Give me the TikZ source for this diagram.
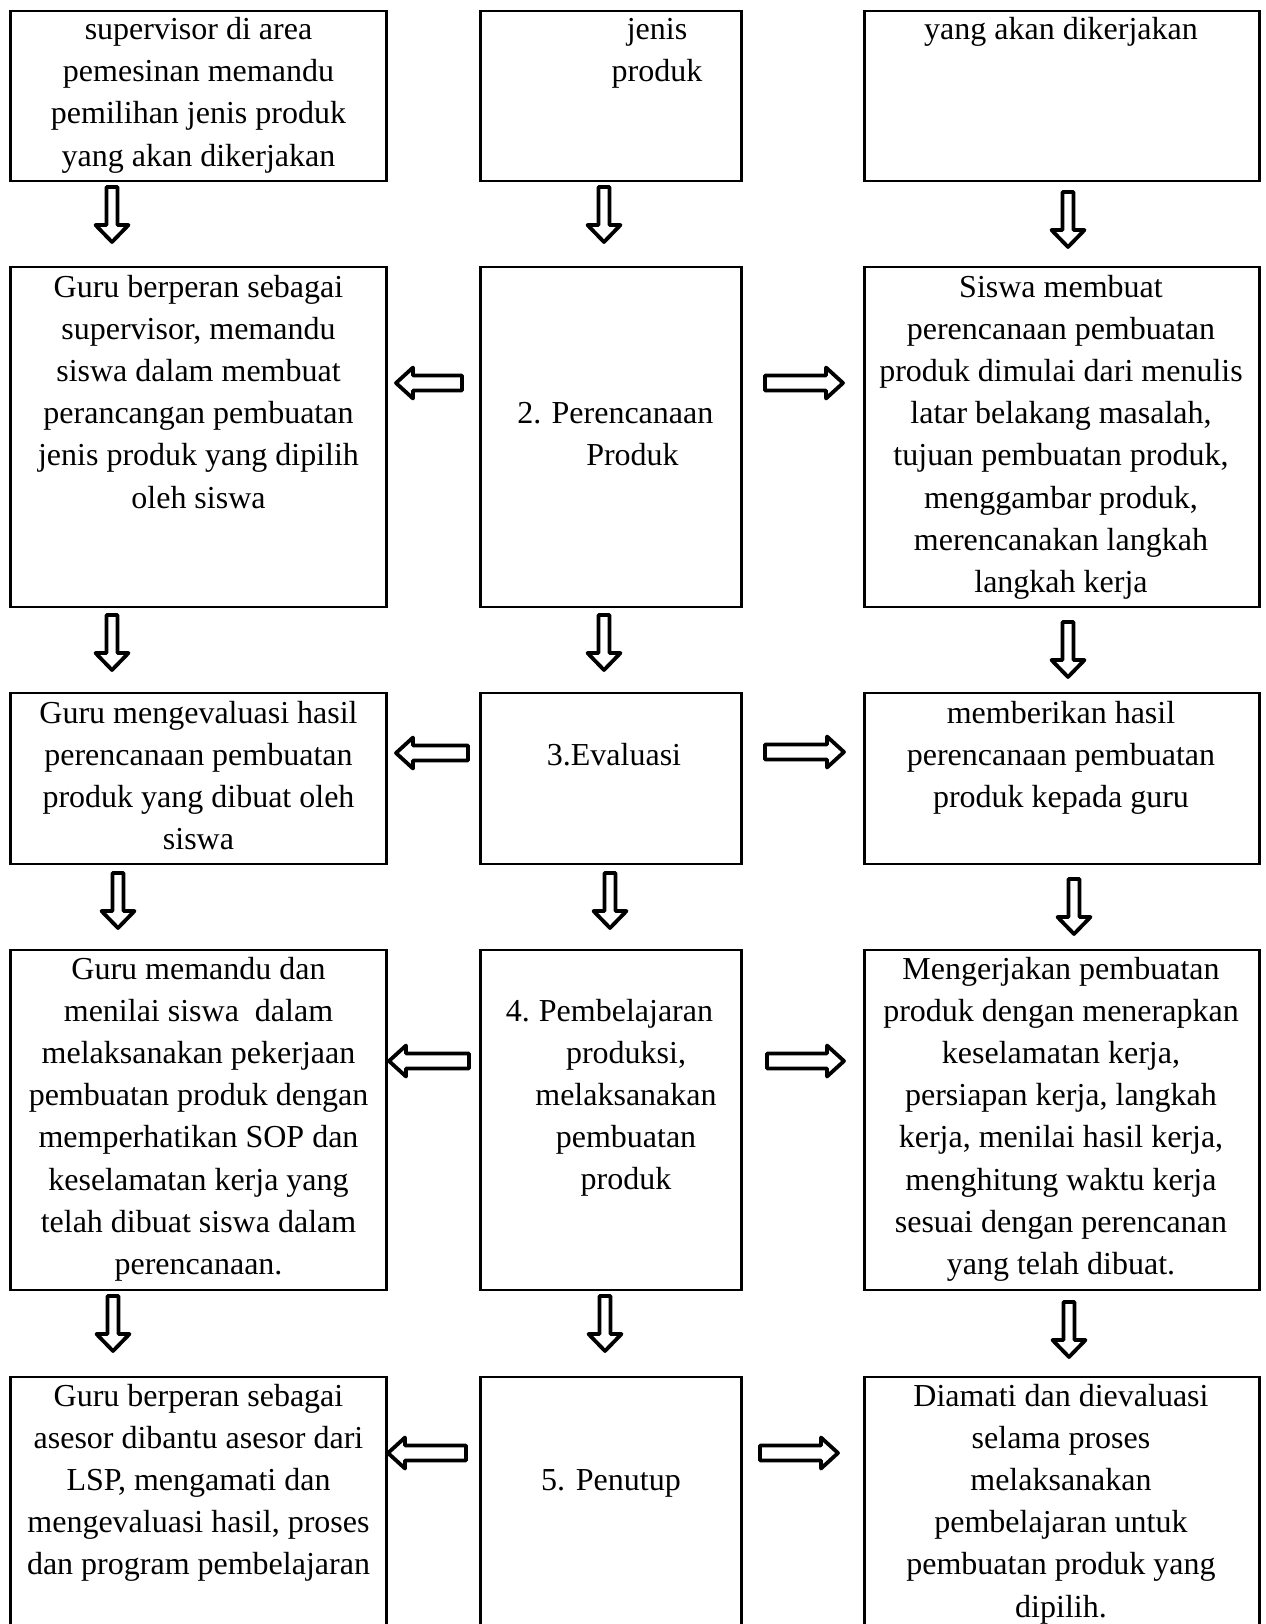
\documentclass[tikz,border=0pt]{standalone}
\usepackage{fontspec}
\setmainfont{Liberation Serif}
\newcommand\BlkD[2]{% x centre, top y
  \draw[blk] (#1-5.5,#2) -- (#1+5.5,#2) -- (#1+5.5,#2+38) -- (#1+16.5,#2+38) -- (#1,#2+55) -- (#1-16.5,#2+38) -- (#1-5.5,#2+38) -- cycle;}
\newcommand\BlkL[3]{% tip x, tail x, y
  \draw[blk] (#1,#3) -- (#1+17,#3-15.5) -- (#1+17,#3-7.5) -- (#2,#3-7.5) -- (#2,#3+7.5) -- (#1+17,#3+7.5) -- (#1+17,#3+15.5) -- cycle;}
\newcommand\BlkR[3]{% tail x, tip x, y
  \draw[blk] (#2,#3) -- (#2-17,#3-15.5) -- (#2-17,#3-7.5) -- (#1,#3-7.5) -- (#1,#3+7.5) -- (#2-17,#3+7.5) -- (#2-17,#3+15.5) -- cycle;}
\begin{document}
\begin{tikzpicture}[x=0.5pt,y=-0.5pt,
  box/.style 2 args={draw, line width=1.3pt, inner sep=0pt, minimum width=#1, minimum height=#2},
  txt/.style={inner sep=0pt, align=center, anchor=base, font=\fontsize{16pt}{21.1pt}\selectfont},
  blk/.style={draw, fill=white, line width=1.9pt, line join=round}]
\fill[white] (0,0) rectangle (1265,1624);
\clip (0,0) rectangle (1265,1624);
% ---------- boxes ----------
\node[box={188pt}{85pt}]    (L1) at (198.5,96) {};
\node[box={130.5pt}{85pt}]  (M1) at (611,96) {};
\node[box={197.5pt}{85pt}]  (R1) at (1062,96) {};
\node[box={188pt}{170pt}]   (L2) at (198.5,437) {};
\node[box={130.5pt}{170pt}] (M2) at (611,437) {};
\node[box={197.5pt}{170pt}] (R2) at (1062,437) {};
\node[box={188pt}{85.5pt}]  (L3) at (198.5,778.5) {};
\node[box={130.5pt}{85.5pt}](M3) at (611,778.5) {};
\node[box={197.5pt}{85.5pt}](R3) at (1062,778.5) {};
\node[box={188pt}{170pt}]   (L4) at (198.5,1120) {};
\node[box={130.5pt}{170pt}] (M4) at (611,1120) {};
\node[box={197.5pt}{170pt}] (R4) at (1062,1120) {};
\node[box={188pt}{170pt}]   (L5) at (198.5,1547) {};
\node[box={130.5pt}{170pt}] (M5) at (611,1547) {};
\node[box={197.5pt}{170pt}] (R5) at (1062,1547) {};
% ---------- texts (anchored at the baseline of their last line) ----------
\node[txt] (tL1) at (198.5,166.1) {supervisor di area\\pemesinan memandu\\pemilihan jenis produk\\yang akan dikerjakan};
\node[txt] (tM1) at (657,81.7) {jenis\\produk};
\node[txt] (tR1) at (1061,39.5) {yang akan dikerjakan};
\node[txt] (tL2) at (198.5,508) {Guru berperan sebagai\\supervisor, memandu\\siswa dalam membuat\\perancangan pembuatan\\jenis produk yang dipilih\\oleh siswa};
\node[txt, anchor=base west] (nM2) at (517,423.5) {2.};
\node[txt] (tM2) at (632.5,465.7) {Perencanaan\\Produk};
\node[txt] (tR2) at (1061,592.4) {Siswa membuat\\perencanaan pembuatan\\produk dimulai dari menulis\\latar belakang masalah,\\tujuan pembuatan produk,\\menggambar produk,\\merencanakan langkah\\langkah kerja};
\node[txt] (tL3) at (198.5,849.6) {Guru mengevaluasi hasil\\perencanaan pembuatan\\produk yang dibuat oleh\\siswa};
\node[txt] (tM3) at (614,765) {3.Evaluasi};
\node[txt] (tR3) at (1061,807.4) {memberikan hasil\\perencanaan pembuatan\\produk kepada guru};
\node[txt] (tL4) at (198.5,1274.4) {Guru memandu dan\\menilai siswa\ \ dalam\\melaksanakan pekerjaan\\pembuatan produk dengan\\memperhatikan SOP dan\\keselamatan kerja yang\\telah dibuat siswa dalam\\perencanaan.};
\node[txt, anchor=base west] (nM4) at (505.5,1021) {4.};
\node[txt] (tM4) at (626,1189.8) {Pembelajaran\\produksi,\\melaksanakan\\pembuatan\\produk};
\node[txt] (tR4) at (1061,1274.4) {Mengerjakan pembuatan\\produk dengan menerapkan\\keselamatan kerja,\\persiapan kerja, langkah\\kerja, menilai hasil kerja,\\menghitung waktu kerja\\sesuai dengan perencanan\\yang telah dibuat.};
\node[txt] (tL5) at (198.5,1574.8) {Guru berperan sebagai\\asesor dibantu asesor dari\\LSP, mengamati dan\\mengevaluasi hasil, proses\\dan program pembelajaran};
\node[txt] (tM5) at (611,1490) {5. Penutup};
\node[txt] (tR5) at (1061,1617) {Diamati dan dievaluasi\\selama proses\\melaksanakan\\pembelajaran untuk\\pembuatan produk yang\\dipilih.};
% ---------- down arrows ----------
\BlkD{112}{187} \BlkD{604}{187} \BlkD{1068}{192}
\BlkD{112}{615} \BlkD{604}{615} \BlkD{1068}{622}
\BlkD{118}{873} \BlkD{610}{873} \BlkD{1074}{879}
\BlkD{113}{1296} \BlkD{605}{1296} \BlkD{1069}{1302}
% ---------- side arrows ----------
\BlkL{396}{462}{383} \BlkR{765}{843}{383}
\BlkL{396}{468}{753} \BlkR{765}{844}{752}
\BlkL{389}{469}{1061} \BlkR{767}{844}{1061}
\BlkL{388}{466}{1453} \BlkR{760}{838}{1453}
\end{tikzpicture}
\end{document}
